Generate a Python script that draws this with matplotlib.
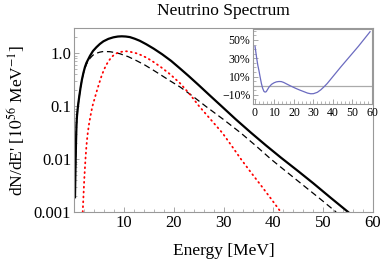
"""Neutrino spectrum with inset of the relative difference."""

from matplotlib import pyplot as plt
from matplotlib.ticker import FixedLocator, MultipleLocator, NullFormatter

# Total spectrum (solid).
totalEnergy = [0.2, 0.3, 0.4, 0.5, 0.6, 0.8, 1.0, 1.3, 1.6, 1.9, 2.2, 2.5, 3.2, 3.8, 4.5, 5.2, 5.9, 6.9,
               7.9, 8.8, 9.6, 10.4, 11.2, 12.2, 13.2, 14.5, 16.0, 17.7, 19.5, 21.3, 23.0, 25.0, 27.3,
               29.5, 32.5, 35.5, 38.5, 41.5, 45.0, 48.0, 51.5, 55.0]
totalFlux = [0.0019, 0.007, 0.02, 0.045, 0.065, 0.1, 0.14, 0.22, 0.32, 0.43, 0.55, 0.66, 0.89, 1.1, 1.3,
             1.5, 1.68, 1.87, 2.0, 2.07, 2.09, 2.07, 2.02, 1.88, 1.72, 1.48, 1.22, 0.955, 0.716, 0.513,
             0.372, 0.251, 0.158, 0.102, 0.056, 0.0316, 0.0182, 0.0107, 0.0059, 0.0035, 0.00186, 0.001]

# First component (black dashed).
dashedEnergy = [0.2, 0.3, 0.4, 0.5, 0.6, 0.8, 1.0, 1.3, 1.6, 1.9, 2.2, 2.5, 3.2, 3.8, 4.5, 5.2, 5.9, 7.2,
                8.2, 9.2, 10.9, 12.6, 14.2, 15.9, 17.6, 19.3, 21.3, 23.8, 26.4, 30.0, 33.5, 36.5, 39.5,
                42.8, 46.0, 49.3, 52.6]
dashedFlux = [0.0019, 0.007, 0.02, 0.045, 0.065, 0.1, 0.14, 0.22, 0.32, 0.42, 0.52, 0.62, 0.8, 0.92,
              1.0, 1.05, 1.08, 1.07, 1.03, 0.98, 0.86, 0.72, 0.6, 0.48, 0.38, 0.3, 0.23, 0.155, 0.1,
              0.056, 0.031, 0.0178, 0.01, 0.0056, 0.0032, 0.0018, 0.001]

# Second component (red dotted).
dottedEnergy = [1.75, 1.9, 2.05, 2.3, 2.5, 2.7, 3.0, 3.3, 3.7, 4.1, 4.55, 5.05, 5.56, 6.06, 6.56, 7.07,
                7.57, 8.07, 8.57, 9.2, 9.9, 10.5, 11.2, 12.5, 13.5, 14.6, 15.9, 17.3, 19.3, 21.3, 23.2,
                25.1, 27.5, 29.8, 31.6, 33.5, 35.5, 37.5, 39.5, 41.5]
dottedFlux = [0.001, 0.002, 0.004, 0.01, 0.018, 0.028, 0.045, 0.065, 0.1, 0.135, 0.19, 0.27, 0.38, 0.5,
              0.62, 0.74, 0.85, 0.94, 1.0, 1.05, 1.08, 1.09, 1.07, 1.0, 0.92, 0.82, 0.69, 0.56, 0.4,
              0.27, 0.17, 0.1, 0.055, 0.031, 0.018, 0.01, 0.0056, 0.0032, 0.0018, 0.001]

# Inset: relative difference in percent.
insetEnergy = [0.05, 0.5, 1.0, 1.5, 2.1, 2.7, 3.3, 3.9, 4.6, 5.2, 5.8, 6.5, 7.2, 8.5, 9.8, 11.0, 12.3,
               13.5, 14.7, 15.8, 18.0, 20.9, 23.0, 25.2, 27.0, 28.6, 30.0, 32.0, 33.8, 35.5, 37.0,
               39.0, 41.5, 44.0, 47.0, 50.0, 53.0, 56.0, 59.0]
insetPercent = [43, 36, 28.5, 22, 16, 9, 2.5, -2.5, -6.2, -7, -6.5, -4, -1.5, 1.5, 3.2, 4.2, 4.6, 4.5,
                3.6, 2.4, 0, -2.9, -4.8, -6.6, -8.1, -8.8, -8.7, -7.2, -4.4, -1, 2.3, 7.5, 14, 20.5,
                28, 35.5, 43, 51, 59]

yTicks = [0.001, 0.01, 0.1, 1.0]
yTickLabels = ["0.001", "0.01", "0.1", "1.0"]
xTicks = [10, 20, 30, 40, 50, 60]
insetYTicks = [-10, 10, 30, 50]

frameColour = "#999999"
plt.rcParams["font.family"] = ["Liberation Serif", "DejaVu Serif"]
plt.rcParams["mathtext.fontset"] = "stix"


def styleFrame(axes, size, pad):
    for spine in axes.spines.values():
        spine.set_color(frameColour)
        spine.set_linewidth(0.8)
    axes.tick_params(which="both", direction="in", color=frameColour, labelsize=size, pad=pad,
                     top=False, right=False)
    axes.tick_params(which="major", length=3.5, width=0.6)
    axes.tick_params(which="minor", length=2, width=0.5)


fig = plt.figure(figsize=(3.82, 2.64), dpi=100)

axes = fig.add_axes([74 / 382, 52 / 264, 299 / 382, 184 / 264])
axes.plot(totalEnergy, totalFlux, color="black", linewidth=1.6)
axes.plot(dashedEnergy, dashedFlux, color="black", linewidth=0.9, dashes=(5, 3))
axes.plot(dottedEnergy, dottedFlux, color="red", linewidth=1.3, linestyle=(0, (0.5, 2.2)),
          dash_capstyle="round")
axes.set_yscale("log")
axes.set_xlim(0, 60)
axes.set_ylim(0.001, 3.0)
axes.yaxis.set_major_locator(FixedLocator(yTicks))
axes.set_yticklabels(yTickLabels)
axes.yaxis.set_minor_formatter(NullFormatter())
axes.xaxis.set_major_locator(FixedLocator(xTicks))
axes.xaxis.set_minor_locator(MultipleLocator(2))
styleFrame(axes, 12, 2)
axes.set_xlabel("Energy [MeV]", fontsize=12.5, labelpad=9)
axes.set_ylabel("dN/dE' [$10^{56}$ MeV$^{-1}$]", fontsize=12.5, labelpad=5)
axes.set_title("Neutrino Spectrum", fontsize=12.5, pad=9)

inset = fig.add_axes([253 / 382, 160 / 264, 119 / 382, 75 / 264])
inset.axhline(0, color="#aaaaaa", linewidth=0.9)
inset.plot(insetEnergy, insetPercent, color="#6b6bc0", linewidth=0.9)
inset.set_xlim(-1, 60)
inset.set_ylim(-20, 62)
inset.yaxis.set_major_locator(FixedLocator(insetYTicks))
inset.set_yticklabels(["%d%%" % v if v >= 0 else "\u2212%d%%" % -v for v in insetYTicks])
inset.xaxis.set_major_locator(MultipleLocator(10))
inset.xaxis.set_minor_locator(MultipleLocator(2))
inset.yaxis.set_minor_locator(MultipleLocator(5))
styleFrame(inset, 8.5, 2)

fig.savefig("out.png", dpi=100)
